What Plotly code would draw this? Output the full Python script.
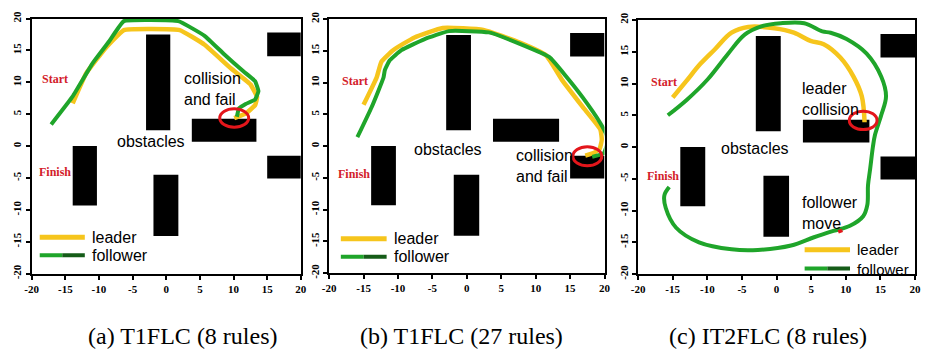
import plotly.graph_objects as go

# ---- environment (shared by all three runs) ----
obstacle_x0 = [-3.0, 15.0, 3.8, 15.0, -13.9, -1.9]
obstacle_x1 = [0.6, 20.0, 13.4, 20.0, -10.3, 1.8]
obstacle_y0 = [2.5, 14.1, 0.7, -5.1, -9.3, -14.1]
obstacle_y1 = [17.5, 17.8, 4.3, -1.5, 0.0, -4.5]

tick_vals = [-20, -15, -10, -5, 0, 5, 10, 15, 20]
tick_text = ["-20", "-15", "-10", "-5", "0", "5", "10", "15", "20"]

# ---- (a) T1FLC, 8 rules ----
leader_a_x = [-13.9, -11.9, -9.0, -6.3, 2.0, 5.7, 9.6, 12.5, 13.5, 13.2, 11.8, 10.1]
leader_a_y = [6.7, 11.4, 15.4, 18.2, 18.2, 15.9, 12.2, 9.7, 7.7, 6.4, 5.1, 4.4]
follower_a_x = [-17.1, -13.9, -11.0, -8.5, -6.3, 1.8, 5.7, 8.6, 11.5, 13.2, 13.7, 13.2, 11.8, 10.8, 10.5]
follower_a_y = [3.4, 7.8, 12.9, 16.4, 19.6, 19.6, 17.3, 14.4, 11.7, 10.2, 8.6, 7.3, 6.6, 5.9, 4.6]

# ---- (b) T1FLC, 27 rules ----
leader_b_x = [-15.0, -13.1, -12.4, -10.7, -7.6, -3.5, 2.4, 7.7, 11.5, 13.9, 16.8, 19.4, 19.6, 19.3, 18.4, 17.2]
leader_b_y = [6.5, 10.8, 13.3, 15.1, 17.1, 18.6, 18.3, 16.3, 14.3, 10.3, 6.2, 2.6, 1.0, -0.4, -1.1, -1.5]
follower_b_x = [-15.9, -13.8, -12.1, -11.9, -11.2, -9.5, -6.2, -2.6, 3.2, 7.7, 12.0, 14.4, 16.8, 19.4, 20.3, 20.4, 19.9, 18.2]
follower_b_y = [1.4, 6.2, 10.8, 12.0, 13.5, 15.1, 16.8, 18.1, 17.9, 16.1, 14.0, 11.0, 7.7, 3.6, 1.7, 0.4, -1.1, -1.7]

# ---- (c) IT2FLC, 8 rules ----
leader_c_x = [-15.0, -13.1, -11.0, -8.9, -6.5, -4.1, -0.3, 2.5, 4.9, 6.8, 9.2, 11.1, 12.3, 12.7]
leader_c_y = [7.8, 10.3, 13.1, 15.4, 18.0, 18.9, 18.7, 18.0, 16.7, 16.2, 14.1, 11.1, 8.0, 3.9]
follower_c_x = [-15.7, -12.9, -10.0, -7.0, -4.6, -2.2, 0.6, 4.0, 6.6, 7.8, 10.1, 13.0, 15.1, 15.8,
                15.1, 14.2, 13.9, 13.5, 13.2, 13.1, 12.5, 10.6, 8.2, 5.4, 2.1, -2.7, -6.5, -11.2,
                -14.5, -16.0, -16.2, -15.5]
follower_c_y = [5.0, 7.5, 10.6, 14.7, 17.7, 19.0, 19.5, 19.5, 18.2, 18.0, 17.0, 14.7, 11.1, 8.0,
                5.0, 1.9, 0.0, -3.5, -6.0, -9.1, -10.9, -12.4, -13.2, -14.2, -15.5, -16.2, -16.1, -15.0,
                -12.7, -9.6, -7.6, -6.3]
# short red trace left where the follower passes under the lower obstacle
red_mark_c_x = [8.9, 9.5]
red_mark_c_y = [-13.35, -13.1]

# collision markers (centre x, centre y, half width, half height)
collision_cx = [10.1, 17.5, 12.5]
collision_cy = [4.4, -1.6, 4.2]
collision_rx = [2.15, 2.1, 2.0]
collision_ry = [1.45, 1.5, 1.45]

captions = ["(a) T1FLC (8 rules)", "(b) T1FLC (27 rules)", "(c) IT2FLC (8 rules)"]

YELLOW = "#F6C51C"
GREEN = "#1FA52A"
DARK_GREEN = "#155C18"
RED = "#E3161B"
TEXT_RED = "#D3202A"
W, H = 930, 356

panels = [
    dict(xd=(25, 298), yd=(11, 276.5), leader=(leader_a_x, leader_a_y), follower=(follower_a_x, follower_a_y),
         smooth=0.3,
         start=(-16.6, 10.55), finish=(-16.6, -4.0), obst=(-2.3, 0.7),
         notes=[("collision<br>and fail", 2.4, 8.93)],
         leg_x=(-18.8, -12.1), leg_y=(-14.3, -17.1), leg_tx=-11.3, leg_joined=False),
    dict(xd=(326.7, 606), yd=(11.5, 276), leader=(leader_b_x, leader_b_y), follower=(follower_b_x, follower_b_y),
         smooth=0.4,
         start=(-16.3, 10.25), finish=(-16.4, -4.4), obst=(-2.8, -0.5),
         notes=[("collision<br>and fail", 6.9, -3.2)],
         leg_x=(-18.3, -11.65), leg_y=(-14.6, -17.4), leg_tx=-10.9, leg_joined=False),
    dict(xd=(640, 921), yd=(12.5, 277), leader=(leader_c_x, leader_c_y), follower=(follower_c_x, follower_c_y),
         smooth=1.0,
         start=(-16.3, 10.3), finish=(-16.4, -4.5), obst=(-3.06, -0.3),
         notes=[("leader<br>collision", 3.4, 7.55), ("follower<br>move", 3.4, -10.4)],
         leg_x=(4.05, 10.6), leg_y=(-16.15, -19.1), leg_tx=11.3, leg_joined=True),
]
caption_x = [179, 461, 772]

fig = go.Figure()
shapes = []
annotations = []

for i, p in enumerate(panels):
    n = "" if i == 0 else str(i + 1)
    xr, yr = "x" + n, "y" + n
    axis_common = dict(
        range=[-20, 20], showgrid=False, zeroline=False,
        showline=True, mirror=True, linecolor="black", linewidth=2,
        ticks="outside", ticklen=4, tickwidth=1.5, tickcolor="black",
        tickvals=tick_vals, ticktext=tick_text,
        tickfont=dict(family="Liberation Serif", size=11, color="black", weight="bold"),
        fixedrange=True,
    )
    fig.update_layout(**{
        "xaxis" + n: dict(axis_common, domain=[p["xd"][0] / W, p["xd"][1] / W], anchor=yr),
        "yaxis" + n: dict(axis_common, domain=[1 - p["yd"][1] / H, 1 - p["yd"][0] / H], anchor=xr,
                          tickangle=-90),
    })

    # obstacles
    for x0, x1, y0, y1 in zip(obstacle_x0, obstacle_x1, obstacle_y0, obstacle_y1):
        shapes.append(dict(type="rect", xref=xr, yref=yr, x0=x0, x1=x1, y0=y0, y1=y1,
                           fillcolor="black", line=dict(width=0), layer="below"))

    # trajectories
    lx, ly = p["leader"]
    fx, fy = p["follower"]
    fig.add_trace(go.Scatter(x=lx, y=ly, mode="lines", xaxis=xr, yaxis=yr, showlegend=False,
                             line=dict(color=YELLOW, width=4.5, shape="spline", smoothing=p["smooth"])))
    fig.add_trace(go.Scatter(x=fx, y=fy, mode="lines", xaxis=xr, yaxis=yr, showlegend=False,
                             line=dict(color=GREEN, width=4, shape="spline", smoothing=p["smooth"])))
    if i == 2:
        fig.add_trace(go.Scatter(x=red_mark_c_x, y=red_mark_c_y, mode="lines", xaxis=xr, yaxis=yr,
                                 showlegend=False, line=dict(color=RED, width=3.5)))

    # collision marker
    cx, cy, rx, ry = collision_cx[i], collision_cy[i], collision_rx[i], collision_ry[i]
    shapes.append(dict(type="circle", xref=xr, yref=yr, x0=cx - rx, x1=cx + rx, y0=cy - ry, y1=cy + ry,
                       line=dict(color=RED, width=3), layer="above"))

    # in-plot legend
    lx0, lx1 = p["leg_x"]
    ly0, ly1 = p["leg_y"]
    shapes.append(dict(type="line", xref=xr, yref=yr, x0=lx0, x1=lx1, y0=ly0, y1=ly0,
                       line=dict(color=YELLOW, width=5)))
    mid = (lx0 + lx1) / 2
    shapes.append(dict(type="line", xref=xr, yref=yr, x0=lx0, x1=mid, y0=ly1, y1=ly1,
                       line=dict(color=GREEN, width=4)))
    shapes.append(dict(type="line", xref=xr, yref=yr, x0=mid, x1=lx1, y0=ly1, y1=ly1,
                       line=dict(color=DARK_GREEN, width=4)))
    sans = dict(family="Liberation Sans", size=16, color="black")
    note_font = dict(family="Liberation Sans", size=15, color="black")
    if p["leg_joined"]:
        annotations.append(dict(text="leader<br>follower", x=p["leg_tx"], y=(ly0 + ly1) / 2,
                                xref=xr, yref=yr, xanchor="left", yanchor="middle", align="left",
                                showarrow=False, font=note_font))
    else:
        annotations.append(dict(text="leader", x=p["leg_tx"], y=ly0, xref=xr, yref=yr,
                                xanchor="left", yanchor="middle", showarrow=False, font=sans))
        annotations.append(dict(text="follower", x=p["leg_tx"], y=ly1, xref=xr, yref=yr,
                                xanchor="left", yanchor="middle", showarrow=False, font=sans))

    # labels
    serif_red = dict(family="Liberation Serif", size=12, color=TEXT_RED, weight="bold")
    annotations.append(dict(text="Start", x=p["start"][0], y=p["start"][1], xref=xr, yref=yr,
                            showarrow=False, font=serif_red))
    annotations.append(dict(text="Finish", x=p["finish"][0], y=p["finish"][1], xref=xr, yref=yr,
                            showarrow=False, font=serif_red))
    annotations.append(dict(text="obstacles", x=p["obst"][0], y=p["obst"][1], xref=xr, yref=yr,
                            showarrow=False, font=sans))
    for txt, tx, ty in p["notes"]:
        annotations.append(dict(text=txt, x=tx, y=ty, xref=xr, yref=yr, xanchor="left",
                                yanchor="middle", align="left", showarrow=False, font=sans))

    # caption under each panel
    annotations.append(dict(text=captions[i], x=caption_x[i] / W, y=1 - 341 / H,
                            xref="paper", yref="paper", xanchor="center", yanchor="middle",
                            showarrow=False,
                            font=dict(family="Liberation Serif", size=24, color="black")))

fig.update_layout(
    width=W, height=H, margin=dict(l=0, r=0, t=0, b=0),
    paper_bgcolor="white", plot_bgcolor="white",
    shapes=shapes, annotations=annotations, showlegend=False,
)

fig.write_html("out.html", include_plotlyjs=True, config={"displayModeBar": False})
